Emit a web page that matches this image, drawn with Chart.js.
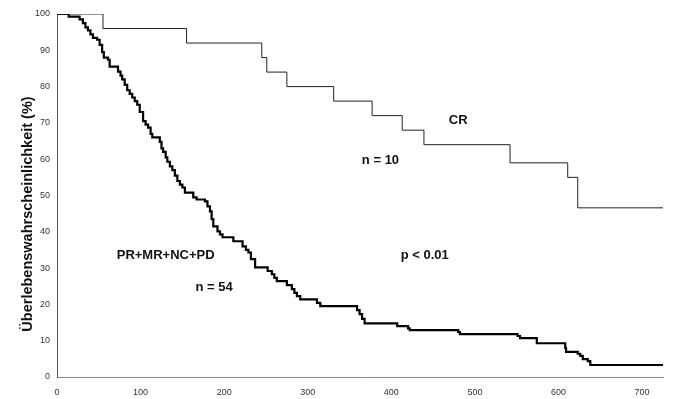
<!DOCTYPE html>
<html>
<head>
<meta charset="utf-8">
<script src="https://cdn.jsdelivr.net/npm/chart.js@4/dist/chart.umd.min.js"></script>
<style>
  body { margin: 0; background: #fff; }
  #wrap { width: 673px; height: 399px; }
</style>
</head>
<body>
<div id="wrap"><canvas id="kmChart"></canvas></div>
<script>
// DATA
const xTicks = [0, 100, 200, 300, 400, 500, 600, 700]
const yTicks = [0, 10, 20, 30, 40, 50, 60, 70, 80, 90, 100]

// CR, n = 10 : [day, survival %]
const crSteps = [
  [0, 100], [55, 96], [155, 92], [245, 88], [251, 84], [275, 80], [331, 76],
  [377, 72], [413, 68], [439, 64], [542, 59], [611, 55], [623, 46.6], [725, 46.6]
]

// PR+MR+NC+PD, n = 54
const restSteps = [
  [0, 100], [14, 99.3], [27, 98.5], [31, 97.5], [34, 96.3], [37, 95.5], [40, 94.4],
  [43, 93.4], [48, 92.9], [51, 91.5], [54, 89.5], [56, 88], [61, 87.4], [63, 85.5],
  [73, 84.1], [76, 83], [78, 82], [81, 80.5], [84, 79], [87, 78], [90, 77], [93, 76],
  [96, 75], [99, 73], [103, 70.5], [106, 69.5], [109, 68.7], [112, 67], [114, 66],
  [123, 64.8], [125, 63], [127, 62], [130, 60.5], [132, 59.3], [135, 58], [138, 57],
  [141, 55.5], [144, 54], [147, 53], [150, 52.2], [153, 50.8], [163, 49.5], [167, 48.9],
  [177, 48.4], [180, 47], [183, 45.6], [185, 43.5], [187, 41.5], [192, 40.1], [195, 39.3],
  [198, 38.5], [211, 37.4], [222, 36], [226, 35], [229, 34.3], [232, 32.5], [237, 30.2],
  [252, 29.2], [257, 28.3], [260, 27.3], [263, 26.4], [275, 25.3], [281, 24.2], [284, 23.2],
  [287, 22.3], [291, 21.4], [311, 20.4], [315, 19.5], [359, 18.4], [362, 17.3], [365, 16],
  [368, 14.8], [407, 14], [420, 13.4], [422, 12.9], [480, 12.4], [482, 11.8], [551, 11.3],
  [554, 10.7], [574, 9.3], [608, 8], [609, 6.9], [623, 6.4], [626, 5.8], [629, 4.9],
  [635, 4.4], [638, 3.3], [725, 3.3]
]

// labels inside the plot, in data units
const notes = [
  { text: 'CR', x: 480, y: 70.8 },
  { text: 'n = 10', x: 387, y: 59.8 },
  { text: 'PR+MR+NC+PD', x: 130, y: 33.6 },
  { text: 'n = 54', x: 188, y: 24.8 },
  { text: 'p < 0.01', x: 440, y: 33.6 }
]
const yTitle = 'Überlebenswahrscheinlichkeit (%)'

const toPoints = steps => steps.map(s => ({ x: s[0], y: s[1] }))

// text plugin
const notesPlugin = {
  id: 'notes',
  afterDraw(chart) {
    const ctx = chart.ctx
    const xs = chart.scales.x
    const ys = chart.scales.y
    ctx.save()
    ctx.fillStyle = '#111'
    ctx.font = 'bold 13px "Liberation Sans", Arial, sans-serif'
    ctx.textAlign = 'center'
    ctx.textBaseline = 'middle'
    notes.forEach(n => {
      ctx.fillText(n.text, xs.getPixelForValue(n.x), ys.getPixelForValue(n.y))
    })
    // y axis title
    ctx.font = 'bold 14.5px "Liberation Sans", Arial, sans-serif'
    ctx.translate(28, 214)
    ctx.rotate(-Math.PI / 2)
    ctx.fillText(yTitle, 0, 0)
    ctx.restore()
  }
}

const tickFont = { family: '"Liberation Sans", Arial, sans-serif', size: 9 }

const config = {
  type: 'line',
  data: {
    datasets: [
      {
        label: 'CR',
        data: toPoints(crSteps),
        stepped: true,
        borderColor: '#222',
        borderWidth: 1,
        pointRadius: 0,
        fill: false
      },
      {
        label: 'PR+MR+NC+PD',
        data: toPoints(restSteps),
        stepped: true,
        borderColor: '#000',
        borderWidth: 2.2,
        pointRadius: 0,
        fill: false
      }
    ]
  },
  options: {
    responsive: true,
    maintainAspectRatio: false,
    animation: false,
    layout: { padding: { top: 14, right: 10, left: 0, bottom: 0 } },
    plugins: {
      legend: { display: false },
      tooltip: { enabled: false }
    },
    scales: {
      x: {
        type: 'linear',
        min: 0,
        max: 725,
        grid: { display: false, drawTicks: false },
        border: { display: true, color: '#888', width: 1 },
        afterBuildTicks: axis => { axis.ticks = xTicks.map(v => ({ value: v })) },
        afterFit: axis => { axis.height = 22 },
        ticks: { color: '#333', font: tickFont, padding: 10, maxRotation: 0 }
      },
      y: {
        min: 0,
        max: 100,
        grid: { display: false, drawTicks: false },
        border: { display: true, color: '#555', width: 1 },
        afterBuildTicks: axis => { axis.ticks = yTicks.map(v => ({ value: v })) },
        afterFit: axis => { axis.width = 57 },
        ticks: { color: '#333', font: tickFont, padding: 7 }
      }
    }
  },
  plugins: [notesPlugin]
}

const kmChart = new Chart(document.getElementById('kmChart'), config)
</script>
</body>
</html>
